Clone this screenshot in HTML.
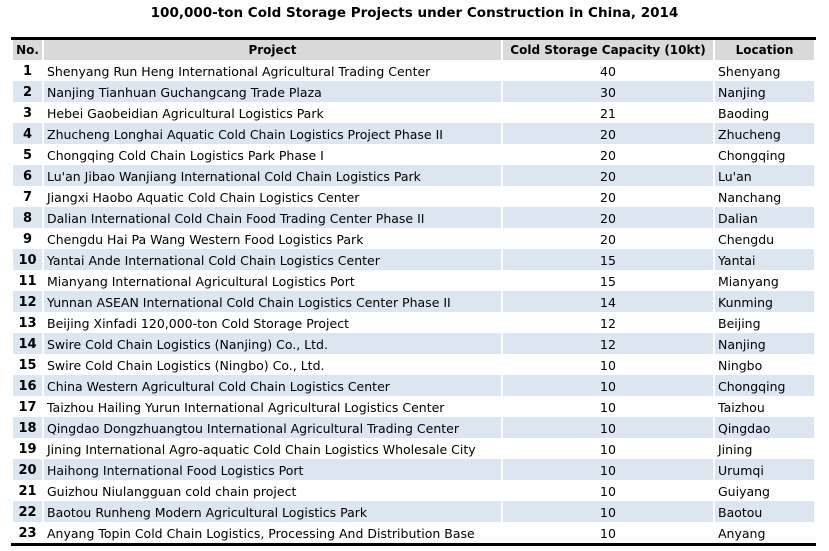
<!DOCTYPE html>
<html><head><meta charset="utf-8"><style>
body{margin:0;width:829px;height:551px;background:#fff;position:relative;font-family:"DejaVu Sans","Liberation Sans",sans-serif;overflow:hidden}
.t{position:absolute;left:0;width:829px;top:5px;text-align:center;font-weight:bold;font-size:13.5px;color:#000}
table{position:absolute;left:11px;top:37px;width:805px;table-layout:fixed;border-collapse:separate;border-spacing:2px 0;border-top:3px solid #000;border-bottom:3px solid #000}
td,th{height:21px;padding:0 3px 1px 3px;font-size:12.5px;color:#000;white-space:nowrap;vertical-align:bottom;line-height:17px;box-sizing:border-box;overflow:visible}
th{background:#d9d9d9;font-weight:bold;font-size:12px;vertical-align:middle;height:20px;padding:0 3px}
tr.s td{background:#dce6f1}
td.n{font-weight:bold;font-size:13px;text-align:center}
td.c{text-align:center}
</style></head><body>
<div class="t">100,000-ton Cold Storage Projects under Construction in China, 2014</div>
<table>
<colgroup><col style="width:29px"><col style="width:457px"><col style="width:210px"><col style="width:99px"></colgroup>
<tr><th>No.</th><th>Project</th><th>Cold Storage Capacity (10kt)</th><th>Location</th></tr>
<tr><td class="n">1</td><td>Shenyang Run Heng International Agricultural Trading Center</td><td class="c">40</td><td>Shenyang</td></tr>
<tr class="s"><td class="n">2</td><td>Nanjing Tianhuan Guchangcang Trade Plaza</td><td class="c">30</td><td>Nanjing</td></tr>
<tr><td class="n">3</td><td>Hebei Gaobeidian Agricultural Logistics Park</td><td class="c">21</td><td>Baoding</td></tr>
<tr class="s"><td class="n">4</td><td>Zhucheng Longhai Aquatic Cold Chain Logistics Project Phase II</td><td class="c">20</td><td>Zhucheng</td></tr>
<tr><td class="n">5</td><td>Chongqing Cold Chain Logistics Park Phase I</td><td class="c">20</td><td>Chongqing</td></tr>
<tr class="s"><td class="n">6</td><td>Lu'an Jibao Wanjiang International Cold Chain Logistics Park</td><td class="c">20</td><td>Lu'an</td></tr>
<tr><td class="n">7</td><td>Jiangxi Haobo Aquatic Cold Chain Logistics Center</td><td class="c">20</td><td>Nanchang</td></tr>
<tr class="s"><td class="n">8</td><td>Dalian International Cold Chain Food Trading Center Phase II</td><td class="c">20</td><td>Dalian</td></tr>
<tr><td class="n">9</td><td>Chengdu Hai Pa Wang Western Food Logistics Park</td><td class="c">20</td><td>Chengdu</td></tr>
<tr class="s"><td class="n">10</td><td>Yantai Ande International Cold Chain Logistics Center</td><td class="c">15</td><td>Yantai</td></tr>
<tr><td class="n">11</td><td>Mianyang International Agricultural Logistics Port</td><td class="c">15</td><td>Mianyang</td></tr>
<tr class="s"><td class="n">12</td><td>Yunnan ASEAN International Cold Chain Logistics Center Phase II</td><td class="c">14</td><td>Kunming</td></tr>
<tr><td class="n">13</td><td>Beijing Xinfadi 120,000-ton Cold Storage Project</td><td class="c">12</td><td>Beijing</td></tr>
<tr class="s"><td class="n">14</td><td>Swire Cold Chain Logistics (Nanjing) Co., Ltd.</td><td class="c">12</td><td>Nanjing</td></tr>
<tr><td class="n">15</td><td>Swire Cold Chain Logistics (Ningbo) Co., Ltd.</td><td class="c">10</td><td>Ningbo</td></tr>
<tr class="s"><td class="n">16</td><td>China Western Agricultural Cold Chain Logistics Center</td><td class="c">10</td><td>Chongqing</td></tr>
<tr><td class="n">17</td><td>Taizhou Hailing Yurun International Agricultural Logistics Center</td><td class="c">10</td><td>Taizhou</td></tr>
<tr class="s"><td class="n">18</td><td>Qingdao Dongzhuangtou International Agricultural Trading Center</td><td class="c">10</td><td>Qingdao</td></tr>
<tr><td class="n">19</td><td>Jining International Agro-aquatic Cold Chain Logistics Wholesale City</td><td class="c">10</td><td>Jining</td></tr>
<tr class="s"><td class="n">20</td><td>Haihong International Food Logistics Port</td><td class="c">10</td><td>Urumqi</td></tr>
<tr><td class="n">21</td><td>Guizhou Niulangguan cold chain project</td><td class="c">10</td><td>Guiyang</td></tr>
<tr class="s"><td class="n">22</td><td>Baotou Runheng Modern Agricultural Logistics Park</td><td class="c">10</td><td>Baotou</td></tr>
<tr><td class="n">23</td><td>Anyang Topin Cold Chain Logistics, Processing And Distribution Base</td><td class="c">10</td><td>Anyang</td></tr>
</table>
</body></html>
